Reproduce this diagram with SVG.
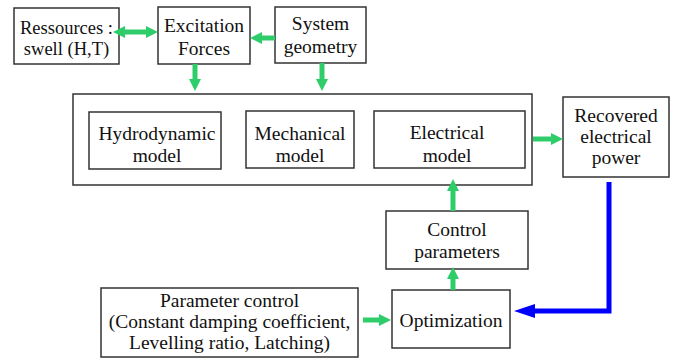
<svg xmlns="http://www.w3.org/2000/svg" width="676" height="358" viewBox="0 0 676 358">
<style>
.box{fill:#fff;stroke:#333;stroke-width:1.5}
.t{font-family:"Liberation Serif","Times New Roman",serif;font-size:19.5px;fill:#111;text-anchor:middle}
.s{font-size:18.5px}
.g{stroke:#2fcc6a;stroke-width:5;fill:none}
.b{stroke:#0000ff;stroke-width:5;fill:none}
</style>
<defs>
<marker id="ag" markerUnits="userSpaceOnUse" viewBox="0 0 12 12" refX="0" refY="6" markerWidth="12" markerHeight="12" orient="auto-start-reverse">
<path d="M0,0 L12,6 L0,12 Z" fill="#2fcc6a"/>
</marker>
<marker id="ab" markerUnits="userSpaceOnUse" viewBox="0 0 21 14" refX="0" refY="7" markerWidth="21" markerHeight="14" orient="auto">
<path d="M0,0 L21,7 L0,14 Z" fill="#0000ff"/>
</marker>
</defs>
<rect width="676" height="358" fill="#fff"/>
<g id="ressources"><rect class="box" x="14" y="8" width="105" height="56"/><text class="t s" x="66.5" y="34">Ressources :</text><text class="t s" x="66.5" y="55">swell (H,T)</text></g>
<g id="excitation"><rect class="box" x="158" y="7" width="92" height="57"/><text class="t" x="204" y="32">Excitation</text><text class="t" x="204" y="55">Forces</text></g>
<g id="geometry"><rect class="box" x="275" y="7" width="91" height="56"/><text class="t" x="320.5" y="30">System</text><text class="t" x="320.5" y="53">geometry</text></g>
<g id="outer"><rect class="box" x="73" y="94" width="459" height="91"/></g>
<g id="hydro"><rect class="box" x="89" y="112" width="132" height="57"/><text class="t" x="157" y="140">Hydrodynamic</text><text class="t" x="157" y="162">model</text></g>
<g id="mech"><rect class="box" x="246" y="111" width="108" height="57"/><text class="t" x="300" y="140">Mechanical</text><text class="t" x="300" y="162">model</text></g>
<g id="elec"><rect class="box" x="374" y="111" width="151" height="57"/><text class="t" x="447" y="139">Electrical</text><text class="t" x="447" y="162">model</text></g>
<g id="recovered"><rect class="box" x="563" y="97" width="106" height="80"/><text class="t" x="616" y="122">Recovered</text><text class="t" x="616" y="143">electrical</text><text class="t" x="616" y="164">power</text></g>
<g id="control"><rect class="box" x="386" y="211" width="142" height="58"/><text class="t" x="457" y="236">Control</text><text class="t" x="457" y="258">parameters</text></g>
<g id="optim"><rect class="box" x="392" y="290" width="118" height="58"/><text class="t" x="451" y="327">Optimization</text></g>
<g id="paramctrl"><rect class="box" x="101" y="288" width="257" height="69"/><text class="t" x="229.5" y="307">Parameter control</text><text class="t" x="229.5" y="328">(Constant damping coefficient,</text><text class="t" x="229.5" y="349">Levelling ratio, Latching)</text></g>
<g id="connectors">
<line class="g" x1="125" y1="32" x2="146" y2="32" marker-start="url(#ag)" marker-end="url(#ag)"/>
<line class="g" x1="275" y1="38" x2="262" y2="38" marker-end="url(#ag)"/>
<line class="g" x1="195" y1="64" x2="195" y2="79" marker-end="url(#ag)"/>
<line class="g" x1="322" y1="63" x2="322" y2="79" marker-end="url(#ag)"/>
<line class="g" x1="533" y1="139" x2="551" y2="139" marker-end="url(#ag)"/>
<line class="g" x1="453" y1="211" x2="453" y2="191" marker-end="url(#ag)"/>
<line class="g" x1="453" y1="290" x2="453" y2="279" marker-end="url(#ag)"/>
<line class="g" x1="363" y1="320" x2="379" y2="320" marker-end="url(#ag)"/>
<path class="b" d="M609,182 V311 H535" marker-end="url(#ab)"/>
</g>
</svg>
